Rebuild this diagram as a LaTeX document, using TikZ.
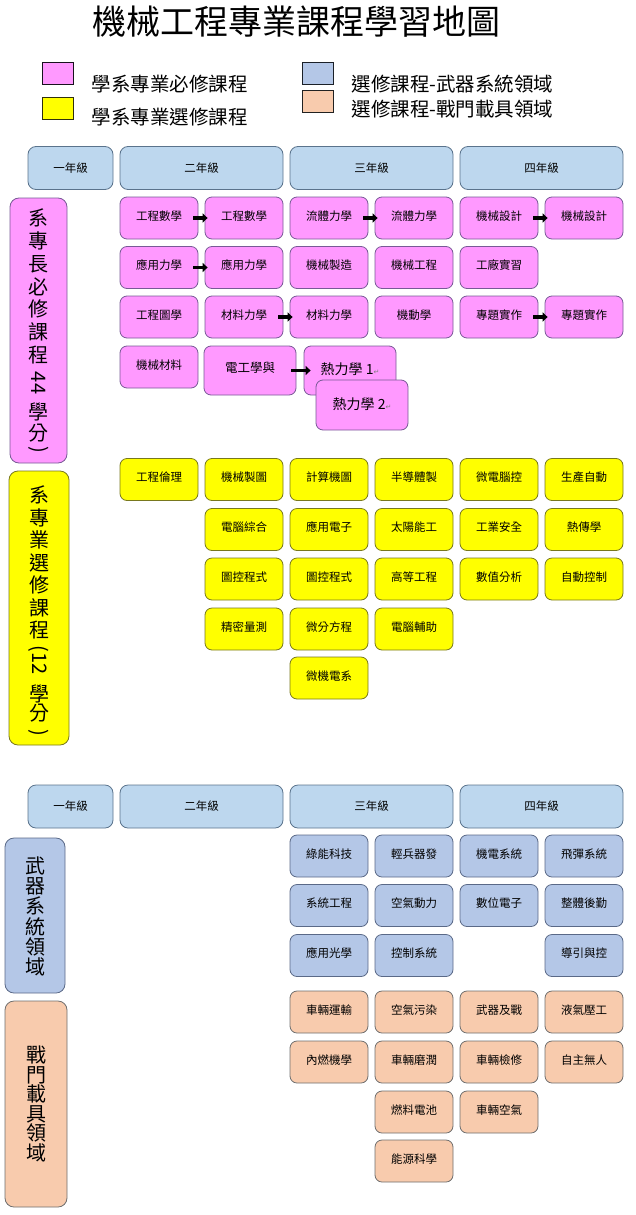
\documentclass[tikz,border=0pt]{standalone}
\usepackage{fontspec}
\setmainfont{Noto Sans CJK TC}
\newfontfamily\symfont{DejaVu Sans}
\usepackage{xcolor}
\usepackage{tikz}
\usetikzlibrary{arrows.meta,positioning}

\definecolor{mustfill}{RGB}{255,153,255}
\definecolor{mustline}{RGB}{120,90,150}
\definecolor{elecfill}{RGB}{255,255,0}
\definecolor{elecline}{RGB}{120,120,30}
\definecolor{gradefill}{RGB}{189,215,238}
\definecolor{gradeline}{RGB}{90,115,140}
\definecolor{weapfill}{RGB}{180,199,231}
\definecolor{weapline}{RGB}{90,105,135}
\definecolor{vehfill}{RGB}{248,203,173}
\definecolor{vehline}{RGB}{110,110,110}

\begin{document}
\begin{tikzpicture}[
    x=1pt, y=-1pt,
    font=\fontsize{11.5}{13}\selectfont,
    grade/.style={rectangle, rounded corners=8pt, draw=gradeline, fill=gradefill, line width=0.8pt, minimum height=43pt},
    course/.style={rectangle, rounded corners=7pt, minimum width=78pt, minimum height=42pt, inner sep=0pt, line width=0.8pt, text height=9pt, text depth=5pt},
    must/.style={course, draw=mustline, fill=mustfill},
    elective/.style={course, draw=elecline, fill=elecfill},
    weapon/.style={course, draw=weapline, fill=weapfill},
    vehicle/.style={course, draw=vehline, fill=vehfill},
    side/.style={rectangle, rounded corners=9pt, inner sep=0pt, line width=0.8pt},
    vtext/.style={align=center, inner sep=0pt, font=\fontsize{20}{22.5}\selectfont},
    vturn/.style={rotate=-90, inner sep=0pt, font=\fontsize{20}{22}\selectfont},
    key/.style={rectangle, minimum width=31pt, minimum height=22pt, inner sep=0pt, line width=0.8pt},
    keytext/.style={anchor=west, font=\fontsize{19.5}{22}\selectfont},
    link/.style={-{Triangle[length=5pt,width=9pt]}, line width=3.5pt, shorten <=-5pt, shorten >=-3pt}
]
    \useasboundingbox (0,0) rectangle (635,1215);

    % Title and legend
    \node[font=\fontsize{34}{40}\selectfont] (title) at (296,22) {機械工程專業課程學習地圖};
    \node[key, draw=black!80!mustline, fill=mustfill] (keymust) at (58,73) {};
    \node[key, draw=black!60!elecline, fill=elecfill] (keyelec) at (58,108.5) {};
    \node[key, draw=black!70!weapline, fill=weapfill] (keyweap) at (318,73) {};
    \node[key, draw=black!70!vehline, fill=vehfill] (keyveh) at (318,101.5) {};
    \node[keytext] (keymusttext) at (88,84) {學系專業必修課程};
    \node[keytext] (keyelectext) at (88,117) {學系專業選修課程};
    \node[keytext] (keyweaptext) at (348,84) {選修課程-武器系統領域};
    \node[keytext] (keyvehtext) at (348,109) {選修課程-戰門載具領域};

    % Year headers
    \node[grade, minimum width=85pt] (g1) at (70.5,168) {一年級};
    \node[grade, minimum width=163pt] (g2) at (201.5,168) {二年級};
    \node[grade, minimum width=163pt] (g3) at (371.5,168) {三年級};
    \node[grade, minimum width=163pt] (g4) at (541.5,168) {四年級};

    % Required courses
    \node[side, draw=mustline, fill=mustfill, minimum width=57pt, minimum height=265pt] (mustside) at (38.5,330.5) {};
    \node[vtext, font=\fontsize{20}{22.8}\selectfont] (musttop) at (38.5,286.5) {系\\專\\長\\必\\修\\課\\程};
    \node[vturn] (must44) at (38.5,383) {44};
    \node[vtext, font=\fontsize{20}{21}\selectfont] (mustbot) at (38.5,422.5) {學\\分};
    \node[vturn] (mustclose) at (38.5,450) {)};
    \node[must] (engmath1) at (159,218) {工程數學};
    \node[must] (engmath2) at (244,218) {工程數學};
    \node[must] (fluid1) at (329,218) {流體力學};
    \node[must] (fluid2) at (414,218) {流體力學};
    \node[must] (design1) at (499,218) {機械設計};
    \node[must] (design2) at (584,218) {機械設計};
    \node[must] (appmech1) at (159,267.5) {應用力學};
    \node[must] (appmech2) at (244,267.5) {應用力學};
    \node[must] (mfg) at (329,267.5) {機械製造};
    \node[must] (mecheng) at (414,267.5) {機械工程};
    \node[must] (shop) at (499,267.5) {工廠實習};
    \node[must] (graphics) at (159,317) {工程圖學};
    \node[must] (matmech1) at (244,317) {材料力學};
    \node[must] (matmech2) at (329,317) {材料力學};
    \node[must] (dynamics) at (414,317) {機動學};
    \node[must] (project1) at (499,317) {專題實作};
    \node[must] (project2) at (584,317) {專題實作};
    \node[must] (matl) at (159,367) {機械材料};
    \node[must, minimum width=92pt, minimum height=49pt, font=\fontsize{12.5}{14}\selectfont] (elec) at (250,370.5) {電工學與};
    \node[must, minimum width=92pt, minimum height=49pt, text height=11pt, text depth=3pt, font=\fontsize{14}{16}\selectfont] (thermo1) at (350,370.5)
        {熱力學 1{\symfont\fontsize{7}{8}\selectfont\color{gray}↵}};

    % Prerequisite arrows
    \draw[link] (engmath1.east) -- (engmath2.west);
    \draw[link] (fluid1.east) -- (fluid2.west);
    \draw[link] (design1.east) -- (design2.west);
    \draw[link] (appmech1.east) -- (appmech2.west);
    \draw[link] (matmech1.east) -- (matmech2.west);
    \draw[link] (project1.east) -- (project2.west);
    \draw[link, shorten >=-7pt] (elec.east) -- (thermo1.west);

    \node[must, minimum width=92pt, minimum height=50pt, text height=11pt, text depth=3pt, font=\fontsize{14}{16}\selectfont] (thermo2) at (362,405)
        {熱力學 2{\symfont\fontsize{7}{8}\selectfont\color{gray}↵}};

    % Elective courses
    \node[side, draw=elecline, fill=elecfill, minimum width=60pt, minimum height=274pt] (elecside) at (39,608) {};
    \node[vtext] (electop) at (39,562.5) {系\\專\\業\\選\\修\\課\\程};
    \node[vturn] (elec12) at (39,660) {(12};
    \node[vtext, font=\fontsize{20}{19.5}\selectfont] (elecbot) at (39,703.5) {學\\分};
    \node[vturn] (elecclose) at (39,733) {)};
    \node[elective] (ethics) at (159,479.5) {工程倫理};
    \node[elective] (mdraw) at (244,479.5) {機械製圖};
    \node[elective] (cgraph) at (329,479.5) {計算機圖};
    \node[elective] (semi) at (414,479.5) {半導體製};
    \node[elective] (micro) at (499,479.5) {微電腦控};
    \node[elective] (prodauto) at (584,479.5) {生產自動};
    \node[elective] (comp) at (244,529.5) {電腦綜合};
    \node[elective] (appelec) at (329,529.5) {應用電子};
    \node[elective] (solar) at (414,529.5) {太陽能工};
    \node[elective] (safety) at (499,529.5) {工業安全};
    \node[elective] (heat) at (584,529.5) {熱傳學};
    \node[elective] (gprog1) at (244,579) {圖控程式};
    \node[elective] (gprog2) at (329,579) {圖控程式};
    \node[elective] (adveng) at (414,579) {高等工程};
    \node[elective] (numer) at (499,579) {數值分析};
    \node[elective] (autoctl) at (584,579) {自動控制};
    \node[elective] (measure) at (244,629) {精密量測};
    \node[elective] (diffeq) at (329,629) {微分方程};
    \node[elective] (cad) at (414,629) {電腦輔助};
    \node[elective] (mems) at (329,678) {微機電系};

    % Year headers, second chart
    \node[grade, minimum width=85pt] (g1b) at (70.5,806.5) {一年級};
    \node[grade, minimum width=163pt] (g2b) at (201.5,806.5) {二年級};
    \node[grade, minimum width=163pt] (g3b) at (371.5,806.5) {三年級};
    \node[grade, minimum width=163pt] (g4b) at (541.5,806.5) {四年級};

    % Weapon systems track
    \node[side, draw=weapline, fill=weapfill, minimum width=60pt, minimum height=155pt] (weapside) at (35,915.5) {};
    \node[vtext, font=\fontsize{20}{20.2}\selectfont] (weaptext) at (35,916.5) {武\\器\\系\\統\\領\\域};
    \node[weapon] (green) at (329,856) {綠能科技};
    \node[weapon] (arms) at (414,856) {輕兵器發};
    \node[weapon] (mecha) at (499,856) {機電系統};
    \node[weapon] (missile) at (584,856) {飛彈系統};
    \node[weapon] (syseng) at (329,905.5) {系統工程};
    \node[weapon] (aero) at (414,905.5) {空氣動力};
    \node[weapon] (digital) at (499,905.5) {數位電子};
    \node[weapon] (logist) at (584,905.5) {整體後勤};
    \node[weapon] (optics) at (329,955.5) {應用光學};
    \node[weapon] (ctlsys) at (414,955.5) {控制系統};
    \node[weapon] (guide) at (584,955.5) {導引與控};

    % Combat vehicle track
    \node[side, draw=vehline, fill=vehfill, minimum width=62pt, minimum height=206pt] (vehside) at (36,1104) {};
    \node[vtext, font=\fontsize{20}{19.6}\selectfont] (vehtext) at (36,1104) {戰\\門\\載\\具\\領\\域};
    \node[vehicle] (transp) at (329,1012) {車輛運輸};
    \node[vehicle] (airpol) at (414,1012) {空氣污染};
    \node[vehicle] (weapwar) at (499,1012) {武器及戰};
    \node[vehicle] (hydro) at (584,1012) {液氣壓工};
    \node[vehicle] (engine) at (329,1062) {內燃機學};
    \node[vehicle] (tribo) at (414,1062) {車輛磨潤};
    \node[vehicle] (repair) at (499,1062) {車輛檢修};
    \node[vehicle] (unmanned) at (584,1062) {自主無人};
    \node[vehicle] (fuelcell) at (414,1112) {燃料電池};
    \node[vehicle] (vehaero) at (499,1112) {車輛空氣};
    \node[vehicle] (energy) at (414,1161) {能源科學};
\end{tikzpicture}
\end{document}
